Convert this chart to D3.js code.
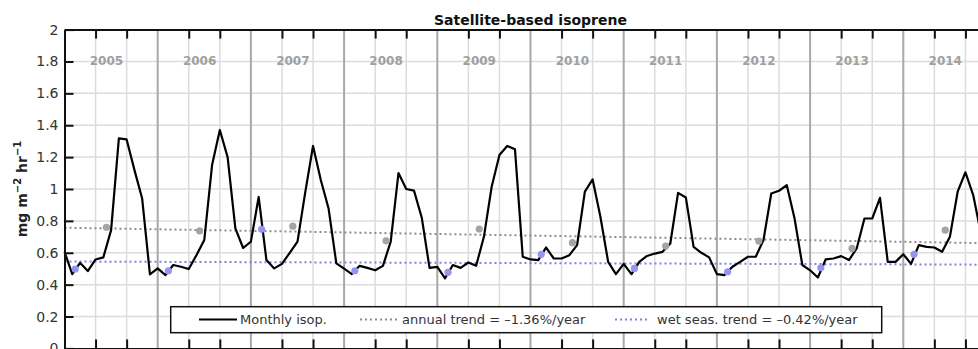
<!DOCTYPE html>
<html><head><meta charset="utf-8">
<script src="https://cdn.jsdelivr.net/npm/d3@7"></script>
<style>
body{margin:0;background:#fff}
svg{display:block}
text{font-family:"DejaVu Sans",sans-serif}
</style>
</head><body>
<svg id="c" width="978" height="349"></svg>
<script>
// ---------- data ----------
const years = [2005,2006,2007,2008,2009,2010,2011,2012,2013,2014];
// monthly isoprene, Jan 2005 .. Dec 2014
const monthly = [
  0.606,0.466,0.537,0.485,0.558,0.571,0.742,1.318,1.311,1.12,0.94,0.464,
  0.502,0.46,0.523,0.512,0.498,0.586,0.68,1.15,1.37,1.2,0.753,0.63,
  0.67,0.95,0.554,0.502,0.53,0.6,0.67,0.98,1.27,1.056,0.878,0.533,
  0.50,0.466,0.518,0.505,0.49,0.518,0.67,1.10,1.00,0.99,0.82,0.505,
  0.512,0.44,0.523,0.505,0.539,0.518,0.70,1.014,1.213,1.27,1.25,0.575,
  0.558,0.554,0.633,0.564,0.564,0.585,0.648,0.983,1.06,0.826,0.543,0.466,
  0.53,0.466,0.543,0.58,0.595,0.606,0.658,0.976,0.947,0.637,0.6,0.571,
  0.466,0.46,0.512,0.543,0.575,0.575,0.68,0.972,0.989,1.024,0.815,0.523,
  0.49,0.445,0.558,0.564,0.579,0.554,0.627,0.815,0.815,0.945,0.543,0.543,
  0.591,0.53,0.648,0.637,0.633,0.606,0.70,0.983,1.105,0.962,0.72,0.6
];
const annualMean = [0.76,0.737,0.767,0.675,0.749,0.663,0.642,0.673,0.627,0.742];
const wetMean    = [0.498,0.487,0.747,0.487,0.477,0.59,0.502,0.481,0.506,0.59];
const trendYears  = [2005, 2015];
const annualTrend = [0.757, 0.659];
const wetTrend    = [0.545, 0.525];
const yTicks = [0,0.2,0.4,0.6,0.8,1,1.2,1.4,1.6,1.8,2];
const yTickLabels = ["0","0.2","0.4","0.6","0.8","1","1.2","1.4","1.6","1.8","2"];
const legendLabels = ["Monthly isop.","annual trend = \u20131.36%/year","wet seas. trend = \u20130.42%/year"];
const titleText = "Satellite-based isoprene";

// ---------- layout ----------
const L = 64.5, R = 996.5, T = 29.6, B = 348.4;
const svg = d3.select("#c");
const x = d3.scaleLinear().domain([2005, 2015]).range([L, R]);
const y = d3.scaleLinear().domain([0, 2]).range([B, T]);

const minorX = [];
years.forEach(yr => { minorX.push(yr + 1/3, yr + 2/3); });
const yearLines = years.slice(1).concat([2015]);

// grid
const grid = svg.append("g");
grid.selectAll("line.h").data(yTicks.filter(v => v > 0 && v < 2)).join("line")
  .attr("x1", L).attr("x2", R).attr("y1", d => y(d)).attr("y2", d => y(d))
  .attr("stroke", "#dcdcdc").attr("stroke-width", 1.5);
grid.selectAll("line.m").data(minorX).join("line")
  .attr("x1", d => x(d)).attr("x2", d => x(d)).attr("y1", T).attr("y2", B)
  .attr("stroke", "#dcdcdc").attr("stroke-width", 1.5);
grid.selectAll("line.y").data(yearLines).join("line")
  .attr("x1", d => x(d)).attr("x2", d => x(d)).attr("y1", T).attr("y2", B)
  .attr("stroke", "#a8a8a8").attr("stroke-width", 2);

// year labels
svg.append("g").selectAll("text").data(years).join("text")
  .attr("x", d => x(d + 0.45)).attr("y", y(1.8))
  .attr("text-anchor", "middle").attr("dominant-baseline", "central")
  .attr("font-size", 12).attr("font-weight", "bold").attr("fill", "#a0a0a0")
  .text(d => d);

const plot = svg.append("g");
// trends
const tline = d3.line().x(d => x(d[0])).y(d => y(d[1]));
plot.append("path").datum(trendYears.map((t, i) => [t, annualTrend[i]]))
  .attr("d", tline).attr("fill", "none").attr("stroke", "#8c8c8c")
  .attr("stroke-width", 2).attr("stroke-dasharray", "2,3");
plot.append("path").datum(trendYears.map((t, i) => [t, wetTrend[i]]))
  .attr("d", tline).attr("fill", "none").attr("stroke", "#7f7fe6")
  .attr("stroke-width", 2).attr("stroke-dasharray", "2,3");

// monthly curve
plot.append("path").datum(monthly.map((v, i) => [2005 + i / 12, v]))
  .attr("d", tline).attr("fill", "none").attr("stroke", "#000")
  .attr("stroke-width", 2.2).attr("stroke-linejoin", "round");

// dots
plot.selectAll("circle.a").data(years).join("circle")
  .attr("cx", (d) => x(d + 0.45)).attr("cy", (d, i) => y(annualMean[i]))
  .attr("r", 3.6).attr("fill", "#a4a4a4");
plot.selectAll("circle.w").data(years).join("circle")
  .attr("cx", (d) => x(d + 0.115)).attr("cy", (d, i) => y(wetMean[i]))
  .attr("r", 3.6).attr("fill", "#9494f2");

// axes
const axL = d3.axisLeft(y).tickValues(yTicks).tickFormat((d, i) => yTickLabels[i])
  .tickSizeInner(-9).tickSizeOuter(0).tickPadding(6);
const gL = svg.append("g").attr("transform", `translate(${L},0)`).call(axL);
const axT = d3.axisTop(x).tickValues(minorX).tickFormat("").tickSizeInner(-9).tickSizeOuter(0);
const gT = svg.append("g").attr("transform", `translate(0,${T})`).call(axT);
const axB = d3.axisBottom(x).tickValues(minorX).tickFormat("").tickSizeInner(-9).tickSizeOuter(0);
const gB = svg.append("g").attr("transform", `translate(0,${B})`).call(axB);
[gL, gT, gB].forEach(g => {
  g.select(".domain").attr("stroke", "#111").attr("stroke-width", 2);
  g.selectAll(".tick line").attr("stroke", "#111").attr("stroke-width", 2);
});
gL.selectAll(".tick text").attr("font-size", 14).attr("fill", "#333")
  .attr("font-family", "DejaVu Sans");

// title
svg.append("text").attr("x", (L + R) / 2).attr("y", 25).attr("text-anchor", "middle")
  .attr("font-size", 14).attr("font-weight", "bold").attr("fill", "#111").text(titleText);

// y label
const yl = svg.append("text").attr("transform", `translate(27,${(T + B) / 2}) rotate(-90)`)
  .attr("text-anchor", "middle").attr("font-size", 14).attr("font-weight", "bold").attr("fill", "#222");
yl.append("tspan").text("mg m");
yl.append("tspan").attr("dy", -6).attr("font-size", 10).text("\u22122");
yl.append("tspan").attr("dy", 6).text(" hr");
yl.append("tspan").attr("dy", -6).attr("font-size", 10).text("\u22121");

// legend
const lg = svg.append("g");
lg.append("rect").attr("x", 170.7).attr("y", 306.7).attr("width", 711).attr("height", 26)
  .attr("fill", "#fff").attr("stroke", "#111").attr("stroke-width", 1.5);
const ly = 319.5;
const items = [
  {x1: 199, x2: 237, tx: 240, stroke: "#000", dash: null, w: 2.2},
  {x1: 360, x2: 398, tx: 402, stroke: "#8c8c8c", dash: "2,3", w: 2},
  {x1: 615, x2: 649, tx: 657, stroke: "#7f7fe6", dash: "2,3", w: 2}
];
items.forEach((it, i) => {
  lg.append("line").attr("x1", it.x1).attr("x2", it.x2).attr("y1", ly).attr("y2", ly)
    .attr("stroke", it.stroke).attr("stroke-width", it.w).attr("stroke-dasharray", it.dash);
  lg.append("text").attr("x", it.tx).attr("y", ly).attr("dominant-baseline", "central")
    .attr("font-size", 13).attr("fill", "#333").text(legendLabels[i]);
});
</script>
</body></html>
